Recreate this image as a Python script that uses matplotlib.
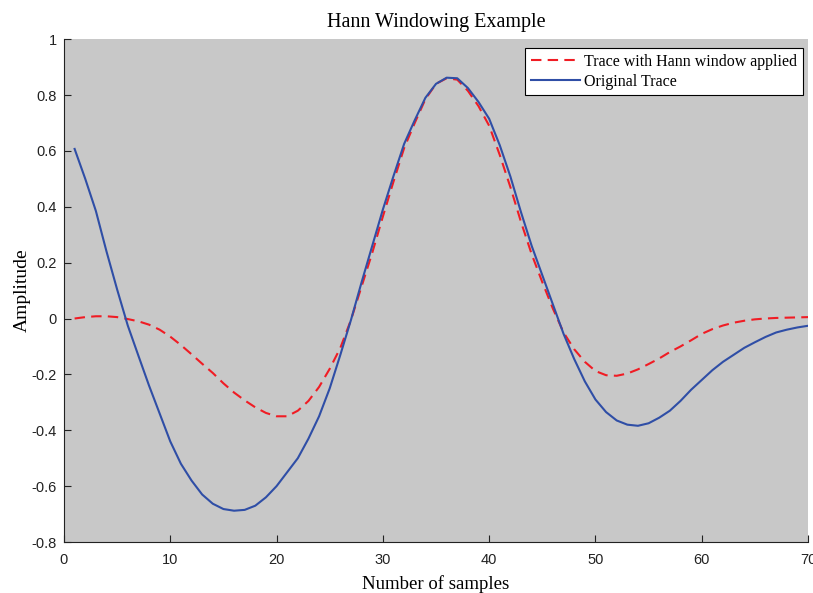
import matplotlib
matplotlib.use("Agg")
import matplotlib.pyplot as plt
import numpy as np

samples = np.arange(1, 71)

original = [
	0.607, 0.50, 0.385, 0.24, 0.104, -0.025, -0.133, -0.24, -0.34, -0.44,
	-0.52, -0.58, -0.63, -0.663, -0.682, -0.688, -0.685, -0.67, -0.64, -0.60,
	-0.55, -0.50, -0.43, -0.35, -0.25, -0.13, -0.005, 0.13, 0.26, 0.39,
	0.51, 0.625, 0.71, 0.79, 0.84, 0.862, 0.860, 0.825, 0.775, 0.715,
	0.62, 0.508, 0.38, 0.26, 0.155, 0.05, -0.055, -0.145, -0.225, -0.29,
	-0.335, -0.365, -0.38, -0.384, -0.375, -0.355, -0.33, -0.295, -0.255, -0.22,
	-0.185, -0.155, -0.13, -0.105, -0.085, -0.066, -0.05, -0.04, -0.032, -0.026,
]

windowed = [
	0.0, 0.005, 0.008, 0.008, 0.005, -0.002, -0.01, -0.022, -0.04, -0.065,
	-0.095, -0.128, -0.162, -0.195, -0.232, -0.265, -0.293, -0.318, -0.338, -0.35,
	-0.35, -0.33, -0.295, -0.245, -0.18, -0.105, -0.005, 0.115, 0.235, 0.365,
	0.49, 0.61, 0.70, 0.785, 0.84, 0.86, 0.855, 0.815, 0.76, 0.69,
	0.585, 0.47, 0.345, 0.23, 0.13, 0.035, -0.05, -0.11, -0.155, -0.188,
	-0.203, -0.205, -0.197, -0.182, -0.163, -0.143, -0.12, -0.1, -0.078, -0.055,
	-0.038, -0.025, -0.015, -0.008, -0.003, 0.0, 0.002, 0.003, 0.004, 0.005,
]

ytick_labels = ["-0.8", "-0.6", "-0.4", "-0.2", "0", "0.2", "0.4", "0.6", "0.8", "1"]

serif = "Liberation Serif"
sans = "Liberation Sans"

fig = plt.figure(figsize=(8.13, 5.93), dpi=100)
ax = fig.add_axes([0.0787, 0.086, 0.9152, 0.848])
ax.set_facecolor("#c8c8c8")

ax.plot(samples, windowed, "--", color="#f01c24", lw=1.5, dashes=(5, 3), label="Trace with Hann window applied")
ax.plot(samples, original, "-", color="#2f4ea6", lw=1.5, label="Original Trace")

ax.set_xlim(0, 70)
ax.set_ylim(-0.8, 1)
ax.set_xticks(np.arange(0, 71, 10))
ax.set_yticks(np.linspace(-0.8, 1.0, 10))
ax.set_yticklabels(ytick_labels)
ax.tick_params(direction="in", length=5, width=0.8, colors="#222222", labelsize=10.5)
ax.tick_params(axis="x", pad=8)
ax.tick_params(axis="y", pad=5)
for lab in ax.get_xticklabels() + ax.get_yticklabels():
	lab.set_fontfamily(sans)

ax.spines["top"].set_visible(False)
ax.spines["right"].set_visible(False)
ax.spines["left"].set_color("#222222")
ax.spines["bottom"].set_color("#222222")

ax.set_title("Hann Windowing Example", fontfamily=serif, fontsize=14.5, pad=9)
ax.set_xlabel("Number of samples", fontfamily=serif, fontsize=13.5, labelpad=6)
ax.set_ylabel("Amplitude", fontfamily=serif, fontsize=14, labelpad=1)

leg = ax.legend(loc="upper right", bbox_to_anchor=(0.9933, 0.982), borderaxespad=0,
	prop={"family": serif, "size": 11.5}, fancybox=False, framealpha=1,
	edgecolor="black", handlelength=3.1, handletextpad=0.25,
	borderpad=0.35, labelspacing=0.25)
leg.get_frame().set_linewidth(0.8)

plt.savefig("out.png", dpi=100)
